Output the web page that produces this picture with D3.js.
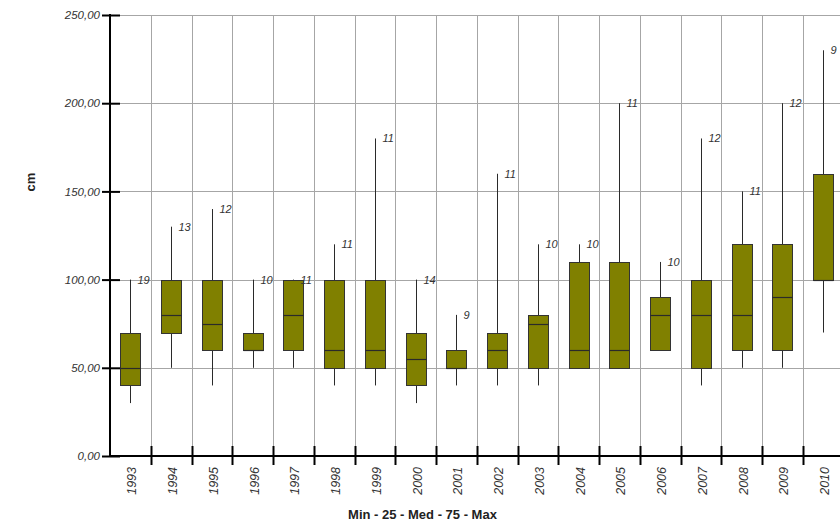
<!DOCTYPE html>
<html>
<head>
<meta charset="utf-8">
<script src="https://cdn.jsdelivr.net/npm/d3@7"></script>
<style>
  html, body { margin: 0; padding: 0; background: #fff; }
  svg { display: block; }
</style>
</head>
<body>
<svg id="chart" width="840" height="524"></svg>
<script>
const years   = ["1993","1994","1995","1996","1997","1998","1999","2000","2001","2002","2003","2004","2005","2006","2007","2008","2009","2010"];
const minVals = [30, 50, 40, 50, 50, 40, 40, 30, 40, 40, 40, 50, 50, 60, 40, 50, 50, 70];
const q1Vals  = [40, 70, 60, 60, 60, 50, 50, 40, 50, 50, 50, 50, 50, 60, 50, 60, 60, 100];
const medVals = [50, 80, 75, 60, 80, 60, 60, 55, 50, 60, 75, 60, 60, 80, 80, 80, 90, 100];
const q3Vals  = [70, 100, 100, 70, 100, 100, 100, 70, 60, 70, 80, 110, 110, 90, 100, 120, 120, 160];
const maxVals = [100, 130, 140, 100, 100, 120, 180, 100, 80, 160, 120, 120, 200, 110, 180, 150, 200, 230];
const counts  = [19, 13, 12, 10, 11, 11, 11, 14, 9, 11, 10, 10, 11, 10, 12, 11, 12, 9];
const yTicks  = [0, 50, 100, 150, 200, 250];
const xTitle  = "Min - 25 - Med - 75 - Max";
const yTitle  = "cm";

(function () {
const svg = d3.select("#chart");
const mLeft = 110, mTop = 15, mBottom = 456, band = 40.75;
const mRight = mLeft + band * years.length;

const x = d3.scaleBand().domain(years).range([mLeft, mRight]).paddingInner(0).paddingOuter(0);
const y = d3.scaleLinear().domain([0, 250]).range([mBottom, mTop]);

const FONT = "'Liberation Sans', Arial, sans-serif";
const grid = "#a6a6a6";

// horizontal grid
svg.append("g").selectAll("line").data(yTicks).join("line")
  .attr("x1", mLeft).attr("x2", 840)
  .attr("y1", d => Math.round(y(d)) + 0.5).attr("y2", d => Math.round(y(d)) + 0.5)
  .attr("stroke", grid).attr("stroke-width", 1);

// vertical grid at band boundaries
const bounds = years.slice(1);
svg.append("g").selectAll("line").data(bounds).join("line")
  .attr("x1", d => Math.round(x(d)) + 0.5).attr("x2", d => Math.round(x(d)) + 0.5)
  .attr("y1", mTop).attr("y2", mBottom)
  .attr("stroke", grid).attr("stroke-width", 1);

// boxes
const data = years.map((yr, i) => ({ yr, min: minVals[i], q1: q1Vals[i], med: medVals[i], q3: q3Vals[i], max: maxVals[i], n: counts[i] }));
const g = svg.append("g");
const bw = 20;
data.forEach(d => {
  const cx = Math.round(x(d.yr) + x.bandwidth() / 2) + 0.5;
  g.append("line").attr("x1", cx).attr("x2", cx)
    .attr("y1", y(d.max)).attr("y2", y(d.min))
    .attr("stroke", "#2a2a2a").attr("stroke-width", 1);
  g.append("rect")
    .attr("x", cx - bw / 2).attr("width", bw)
    .attr("y", Math.round(y(d.q3)) + 0.5).attr("height", Math.round(y(d.q1)) - Math.round(y(d.q3)))
    .attr("fill", "#808000").attr("stroke", "#333").attr("stroke-width", 1);
  g.append("line").attr("x1", cx - bw / 2).attr("x2", cx + bw / 2)
    .attr("y1", Math.round(y(d.med)) + 0.5).attr("y2", Math.round(y(d.med)) + 0.5)
    .attr("stroke", "#2a2a2a").attr("stroke-width", 1.2);
  g.append("text")
    .attr("x", cx + 7).attr("y", y(d.max) + 4)
    .attr("font-family", FONT).attr("font-size", 11).attr("font-style", "italic")
    .attr("fill", "#333").text(d.n);
});

// y axis
const yAxis = d3.axisLeft(y).tickValues(yTicks).tickSize(8).tickPadding(2)
  .tickFormat(d => d.toFixed(2).replace(".", ","));
const ya = svg.append("g").attr("transform", `translate(${mLeft},0)`).call(yAxis);
ya.select(".domain").remove();
ya.selectAll(".tick line").attr("x1", 10).attr("x2", -8).attr("stroke", "#000").attr("stroke-width", 2);
ya.selectAll(".tick text").attr("x", -10).attr("font-family", FONT).attr("font-size", 11.5)
  .attr("font-style", "italic").attr("fill", "#333");
svg.append("line").attr("x1", mLeft).attr("x2", mLeft).attr("y1", mTop - 1).attr("y2", mBottom + 1)
  .attr("stroke", "#000").attr("stroke-width", 2);

// x axis
svg.append("line").attr("x1", mLeft).attr("x2", 840).attr("y1", mBottom).attr("y2", mBottom)
  .attr("stroke", "#000").attr("stroke-width", 2);
svg.append("g").selectAll("line").data(bounds).join("line")
  .attr("x1", d => Math.round(x(d)) + 0.5).attr("x2", d => Math.round(x(d)) + 0.5)
  .attr("y1", 446).attr("y2", 465)
  .attr("stroke", "#000").attr("stroke-width", 2);
svg.append("g").selectAll("text").data(years).join("text")
  .attr("transform", d => `translate(${x(d) + x.bandwidth() / 2 + 6},467) rotate(-90)`)
  .attr("text-anchor", "end")
  .attr("font-family", FONT).attr("font-size", 12.5).attr("font-style", "italic")
  .attr("fill", "#333").text(d => d);

// titles
svg.append("text").attr("x", 422.5).attr("y", 519).attr("text-anchor", "middle")
  .attr("font-family", FONT).attr("font-size", 13).attr("font-weight", "bold")
  .attr("fill", "#222").text(xTitle);
svg.append("text").attr("transform", "translate(34.5,182) rotate(-90)").attr("text-anchor", "middle")
  .attr("font-family", FONT).attr("font-size", 13).attr("font-weight", "bold")
  .attr("fill", "#222").text(yTitle);
})();
</script>
</body>
</html>
